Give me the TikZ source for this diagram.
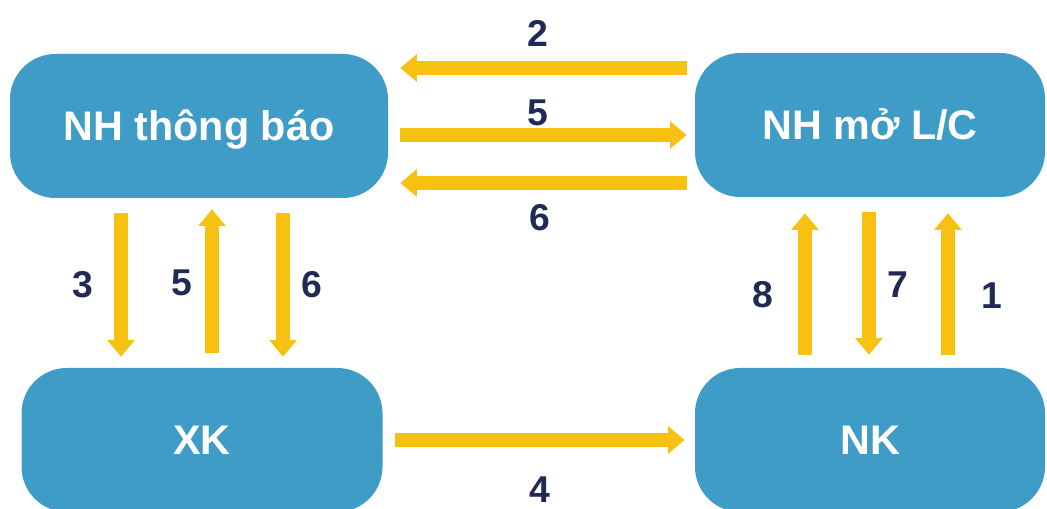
\documentclass[tikz,border=0pt]{standalone}
\usepackage{fontspec}
\setmainfont{Liberation Sans}
\usetikzlibrary{arrows.meta}
\definecolor{boxblue}{HTML}{3E9CC7}
\definecolor{arryellow}{HTML}{F6C111}
\definecolor{labnavy}{HTML}{1F2A55}
\tikzset{
  box/.style={fill=boxblue, rounded corners=34pt, minimum height=108pt,
    text=white, font=\fontsize{31}{36}\selectfont\bfseries, inner sep=0pt,
    text height=22pt, text depth=0pt},
  arr/.style={draw=arryellow, line width=10pt,
    -{Triangle[width=20pt,length=12.5pt]}},
  varr/.style={arr, line width=10.5pt},
  lab/.style={text=labnavy, font=\fontsize{28}{32}\selectfont\bfseries, inner sep=0pt}
}
\begin{document}
\begin{tikzpicture}[x=0.75pt,y=-0.75pt]
\useasboundingbox (0,0) rectangle (1047,509);
\node[box, minimum width=283.5pt] (nhtb) at (199,126) {NH thông báo};
\node[box, minimum width=262.5pt] (nhmo) at (870,125) {NH mở L/C};
\node[box, minimum width=270.75pt] (xk) at (202,440) {XK};
\node[box, minimum width=262.5pt] (nk) at (870,440) {NK};

% horizontal arrows
\draw[arr, shorten <=6pt, shorten >=9pt] (nhmo.west |- 0,68) -- (nhtb.east |- 0,68);
\draw[arr, shorten <=9pt, shorten >=6pt] (nhtb.east |- 0,135) -- (nhmo.west |- 0,135);
\draw[arr, shorten <=6pt, shorten >=9pt] (nhmo.west |- 0,183) -- (nhtb.east |- 0,183);
\draw[arr, shorten <=9pt, shorten >=7.5pt] (xk.east |- 0,440) -- (nk.west |- 0,440);

% vertical arrows left
\draw[varr, shorten <=11.25pt, shorten >=8.25pt] (nhtb.south -| 121,0) -- (xk.north -| 121,0);
\draw[varr, shorten <=11.25pt, shorten >=8.25pt] (xk.north -| 212,0) -- (nhtb.south -| 212,0);
\draw[varr, shorten <=11.25pt, shorten >=8.25pt] (nhtb.south -| 283,0) -- (xk.north -| 283,0);

% vertical arrows right
\draw[varr, shorten <=9.75pt, shorten >=12pt] (nk.north -| 805,0) -- (nhmo.south -| 805,0);
\draw[varr, shorten <=11.25pt, shorten >=9.75pt] (nhmo.south -| 869,0) -- (nk.north -| 869,0);
\draw[varr, shorten <=9.75pt, shorten >=12pt] (nk.north -| 948,0) -- (nhmo.south -| 948,0);

% labels
\node[lab] (l2) at (538,33) {2};
\node[lab] (l5h) at (538,113) {5};
\node[lab] (l6h) at (540,218) {6};
\node[lab] (l4) at (540,490) {4};
\node[lab] (l3) at (83,285) {3};
\node[lab] (l5v) at (182,283) {5};
\node[lab] (l6v) at (312,285) {6};
\node[lab] (l8) at (763,295) {8};
\node[lab] (l7) at (898,285) {7};
\node[lab] (l1) at (992,296) {1};
\end{tikzpicture}
\end{document}
